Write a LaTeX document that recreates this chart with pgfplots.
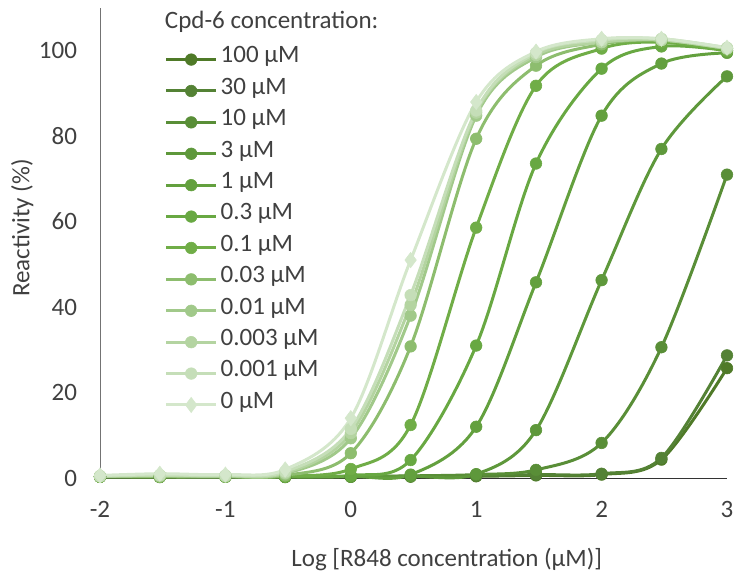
\documentclass[border=0pt]{standalone}
\usepackage{fontspec}
\setmainfont{Carlito}
\usepackage{pgfplots}
\pgfplotsset{compat=1.18}

\definecolor{txt}{HTML}{404040}
\definecolor{cA}{HTML}{4F7A28}
\definecolor{cB}{HTML}{548235}
\definecolor{cC}{HTML}{598E37}
\definecolor{cD}{HTML}{5E983B}
\definecolor{cE}{HTML}{63A03E}
\definecolor{cF}{HTML}{68A842}
\definecolor{cG}{HTML}{70AD47}
\definecolor{cH}{HTML}{8DBD6E}
\definecolor{cI}{HTML}{A1C98A}
\definecolor{cJ}{HTML}{B4D4A1}
\definecolor{cK}{HTML}{C5DEB8}
\definecolor{cL}{HTML}{D4E7CB}

\newcommand{\fs}{\fontsize{12.5bp}{15bp}\selectfont}

\begin{document}
\begin{tikzpicture}
\begin{axis}[
    scale only axis,
    width=313.5bp, height=235bp,
    xmin=-2, xmax=3, ymin=0, ymax=110,
    xtick={-2,-1,0,1,2,3}, ytick={0,20,40,60,80,100},
    axis x line=bottom, axis y line=left,
    axis line style={-},
    x axis line style={black!80},
    y axis line style={black!55},
    major tick length=0pt,
    clip=false,
    /pgf/number format/assume math mode=true,
    tick label style={font=\fs, text=txt},
    yticklabel style={xshift=-8bp},
    xticklabel style={yshift=-8bp},
    xlabel={Log [R848 concentration (µM)]},
    ylabel={Reactivity (\%)},
    label style={font=\fs, text=txt},
    xlabel style={at={(axis description cs:0.553,-0.174)}, anchor=center},
    ylabel style={at={(axis description cs:-0.124,0.532)}, anchor=center},
    legend style={at={(rel axis cs:0.093,0.933)}, anchor=north west,
        draw=none, fill=none, font=\fs, text=txt,
        nodes={inner sep=1.5bp, text height=8bp, text depth=4.7bp},
        row sep=0pt},
    legend cell align=left,
    legend image code/.code={\draw[#1, mark repeat=2, mark phase=2]
        plot coordinates {(0bp,0bp) (12.5bp,0bp) (25bp,0bp)};},
    every axis plot/.append style={line width=1.5bp, smooth, tension=0.55,
        mark=*, mark size=2.9bp, mark options={solid, line width=0.3bp}},
]
\coordinate (ll) at (rel axis cs:0,0);
\coordinate (ur) at (rel axis cs:1,1);
% 100 uM
\addplot[cA] coordinates {(-2,0.3) (-1.523,0.2) (-1,0.3) (-0.523,0.2) (0,0.3) (0.477,0.3) (1,0.4) (1.477,0.6) (2,0.8) (2.477,4.3) (3,25.7)};
\addlegendentry{100 µM}
% 30 uM
\addplot[cB] coordinates {(-2,0.3) (-1.523,0.3) (-1,0.3) (-0.523,0.3) (0,0.3) (0.477,0.4) (1,0.5) (1.477,0.8) (2,1.0) (2.477,4.7) (3,28.7)};
\addlegendentry{30 µM}
% 10 uM
\addplot[cC] coordinates {(-2,0.3) (-1.523,0.3) (-1,0.3) (-0.523,0.3) (0,0.4) (0.477,0.5) (1,0.8) (1.477,1.9) (2,8.2) (2.477,30.6) (3,71)};
\addlegendentry{10 µM}
% 3 uM
\addplot[cD] coordinates {(-2,0.3) (-1.523,0.3) (-1,0.3) (-0.523,0.3) (0,0.3) (0.477,0.4) (1,0.9) (1.477,11.2) (2,46.3) (2.477,77) (3,94)};
\addlegendentry{3 µM}
% 1 uM
\addplot[cE] coordinates {(-2,0.3) (-1.523,0.3) (-1,0.3) (-0.523,0.3) (0,0.4) (0.477,0.8) (1,12) (1.477,45.8) (2,84.8) (2.477,97) (3,99.5)};
\addlegendentry{1 µM}
% 0.3 uM
\addplot[cF] coordinates {(-2,0.3) (-1.523,0.3) (-1,0.3) (-0.523,0.3) (0,0.6) (0.477,4.2) (1,31) (1.477,73.6) (2,95.8) (2.477,101) (3,100)};
\addlegendentry{0.3 µM}
% 0.1 uM
\addplot[cG] coordinates {(-2,0.3) (-1.523,0.3) (-1,0.3) (-0.523,0.4) (0,2.1) (0.477,12.4) (1,58.6) (1.477,91.8) (2,100.5) (2.477,102) (3,100)};
\addlegendentry{0.1 µM}
% 0.03 uM
\addplot[cH] coordinates {(-2,0.3) (-1.523,0.3) (-1,0.3) (-0.523,0.6) (0,5.8) (0.477,30.8) (1,79.4) (1.477,96.5) (2,101.5) (2.477,102.5) (3,100.5)};
\addlegendentry{0.03 µM}
% 0.01 uM
\addplot[cI] coordinates {(-2,0.4) (-1.523,0.5) (-1,0.4) (-0.523,1.0) (0,9.3) (0.477,38) (1,84.8) (1.477,98.5) (2,102) (2.477,102.5) (3,100.5)};
\addlegendentry{0.01 µM}
% 0.003 uM
\addplot[cJ] coordinates {(-2,0.4) (-1.523,0.6) (-1,0.5) (-0.523,1.2) (0,10.5) (0.477,40.5) (1,85.5) (1.477,99) (2,102) (2.477,102.5) (3,100.5)};
\addlegendentry{0.003 µM}
% 0.001 uM
\addplot[cK] coordinates {(-2,0.5) (-1.523,0.7) (-1,0.6) (-0.523,1.5) (0,11.5) (0.477,42.8) (1,86) (1.477,99.5) (2,102.5) (2.477,102.8) (3,100.7)};
\addlegendentry{0.001 µM}
% 0 uM
\addplot[cL, mark=diamond*, mark size=3.8bp] coordinates {(-2,0.6) (-1.523,1.0) (-1,0.8) (-0.523,2.0) (0,14) (0.477,51) (1,88) (1.477,99.8) (2,102.8) (2.477,102.8) (3,100.7)};
\addlegendentry{0 µM}

\node[anchor=west, font=\fs, text=txt, inner sep=0pt] at (rel axis cs:0.103,0.970) {Cpd-6 concentration:};
\end{axis}
\pgfresetboundingbox
\path[use as bounding box] ([shift={(-50bp,-49.5bp)}]ll) rectangle ([shift={(3.5bp,4bp)}]ur);
\end{tikzpicture}
\end{document}
